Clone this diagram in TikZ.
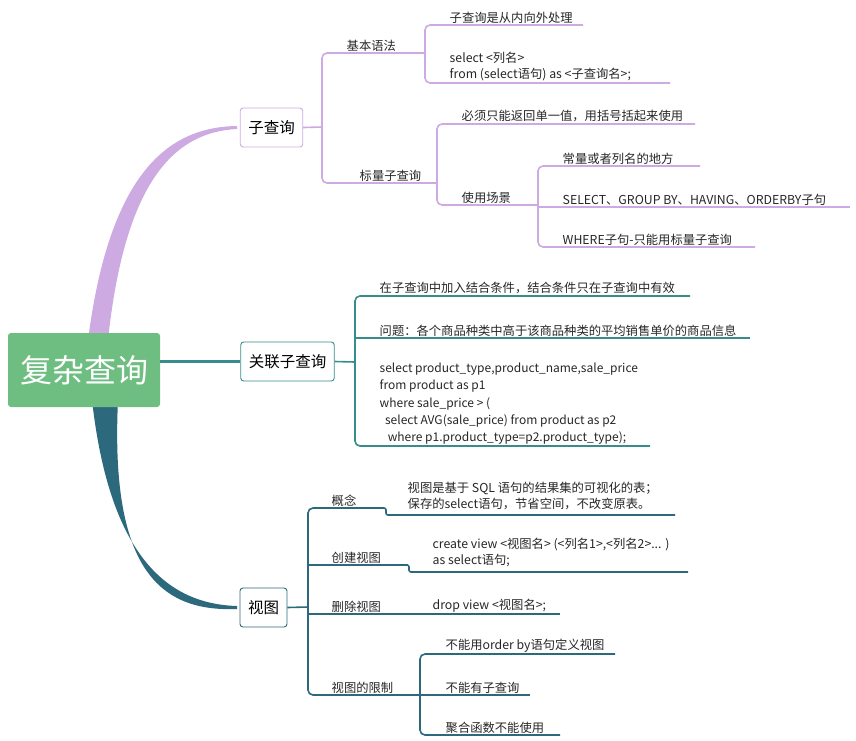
\documentclass[tikz,border=0pt]{standalone}
\usepackage{fontspec}
\setmainfont{Noto Sans CJK SC}
\definecolor{pc}{RGB}{205,170,225}
\definecolor{tc}{RGB}{55,140,140}
\definecolor{dc}{RGB}{45,105,125}
\definecolor{rc}{RGB}{110,190,130}
\begin{document}
\begin{tikzpicture}[x=1pt,y=-1pt,
  leaf/.style={anchor=south west,inner sep=1.5pt,font=\fontsize{12.3}{16.5}\selectfont,align=left,text=black!85},
  topic/.style={draw,rounded corners=3pt,fill=white,font=\fontsize{15.5}{18}\selectfont,minimum height=39pt,inner xsep=8pt,line width=0.9pt},
  pl/.style={draw=pc,line width=1.6pt,rounded corners=5pt},
  tl/.style={draw=tc,line width=1.6pt,rounded corners=5pt},
  dl/.style={draw=dc,line width=1.6pt,rounded corners=5pt}]
\useasboundingbox (0,0) rectangle (856,740);
% main curves
\fill[pc] (88,340) .. controls (110,170) and (170,127) .. (237,126) -- (237,129) .. controls (175,132) and (125,180) .. (108,340) -- cycle;
\fill[dc] (92,400) .. controls (110,560) and (170,604) .. (237,606) -- (237,609) .. controls (160,612) and (110,570) .. (118,400) -- cycle;
\node[fill=rc,rounded corners=3pt,minimum width=152pt,minimum height=74pt,text=white,font=\fontsize{32}{36}\selectfont] (root) at (84,370) {复杂查询};
\node[topic,draw=pc] (a) at (271.5,127.5) {子查询};
\node[topic,draw=tc] (b) at (287.5,361.5) {关联子查询};
\node[topic,draw=dc] (c) at (263.5,607.5) {视图};
\draw[draw=tc,line width=2.2pt] (root.east |- b) -- (b.west);
% 子查询 branch
\draw[pl] (a.east) -- (322,127);
\draw[pl] (422,53) -- (322,53) -- (322,183) -- (437,183);
\node[leaf] (a1) at (345,53) {基本语法};
\node[leaf] (a2) at (358,183) {标量子查询};
\draw[pl] (583,25) -- (425,25) -- (425,83) -- (670,83);
\draw[pl] (422,53) -- (425,53);
\node[leaf] (a11) at (448,25) {子查询是从内向外处理};
\node[leaf] (a12) at (448,83) {select <列名>\\from (select语句) as <子查询名>;};
\draw[pl] (695,124) -- (437,124) -- (437,205) -- (538,205);
\node[leaf] (a21) at (460,124) {必须只能返回单一值，用括号括起来使用};
\node[leaf] (a22) at (460,205) {使用场景};
\draw[pl] (700,166) -- (538,166) -- (538,247) -- (755,247);
\draw[pl] (538,207) -- (850,207);
\node[leaf] (a221) at (561,166) {常量或者列名的地方};
\node[leaf] (a222) at (561,207) {SELECT、GROUP BY、HAVING、ORDERBY子句};
\node[leaf] (a223) at (561,247) {WHERE子句-只能用标量子查询};
% 关联子查询
\draw[tl] (b.east) -- (355,362);
\draw[tl] (690,296) -- (355,296) -- (355,446) -- (650,446);
\draw[tl] (355,338) -- (750,338);
\node[leaf] (b1) at (378,296) {在子查询中加入结合条件，结合条件只在子查询中有效};
\node[leaf] (b2) at (378,338) {问题：各个商品种类中高于该商品种类的平均销售单价的商品信息};
\node[leaf,font=\fontsize{12}{17.2}\selectfont] (b3) at (378,446) {select product\_type,product\_name,sale\_price\\from product as p1\\where sale\_price > (\\\ \ select AVG(sale\_price) from product as p2\\\ \ \ where p1.product\_type=p2.product\_type);};
% 视图
\draw[dl] (c.east) -- (308,607);
\draw[dl] (383,508) -- (308,508) -- (308,695) -- (420,695);
\draw[dl,rounded corners=2pt] (383,508) -- (386,508) -- (386,515) -- (675,515);
\node[leaf] (c1) at (330,508) {概念};
\node[leaf] (c11) at (406,512) {视图是基于 SQL 语句的结果集的可视化的表；\\保存的select语句，节省空间，不改变原表。};
\draw[dl] (308,565) -- (408,565);
\draw[dl,rounded corners=2pt] (406,565) -- (409,565) -- (409,572) -- (688,572);
\node[leaf] (c2) at (330,565) {创建视图};
\node[leaf] (c21) at (431,569) {create view <视图名> (<列名1>,<列名2>... )\\as select语句;};
\draw[dl] (308,614) -- (560,614);
\node[leaf] (c3) at (330,614) {删除视图};
\node[leaf] (c31) at (431,614) {drop view <视图名>;};
\node[leaf] (c4) at (330,695) {视图的限制};
\draw[dl] (615,654) -- (420,654) -- (420,735) -- (560,735);
\draw[dl] (420,695) -- (530,695);
\node[leaf] (c41) at (444,654) {不能用order by语句定义视图};
\node[leaf] (c42) at (444,695) {不能有子查询};
\node[leaf] (c43) at (444,735) {聚合函数不能使用};
\end{tikzpicture}
\end{document}
